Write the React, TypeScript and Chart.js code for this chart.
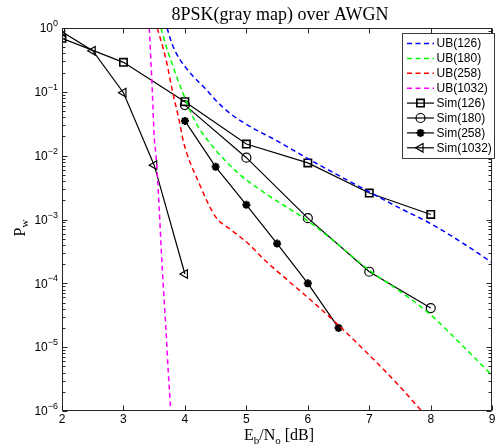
import React, { useEffect, useRef } from "react";
import { Chart, registerables } from "chart.js";

Chart.register(...registerables);

// ---------- data ----------
const xTicks = [2, 3, 4, 5, 6, 7, 8, 9];
const yDecades = [0, -1, -2, -3, -4, -5, -6];

const ub126X = [3.71, 3.78, 3.85, 3.92, 4.0, 4.1, 4.33, 4.5, 4.71, 5.0, 5.5, 6.0, 6.5, 7.0, 7.5, 8.0, 8.5, 9.0];
const ub126Y = [1, 0.6, 0.42, 0.32, 0.25, 0.19, 0.113, 0.074, 0.048, 0.031, 0.017, 0.0090, 0.0049, 0.0027, 0.0015, 0.00086, 0.00044, 0.00021];

const ub180X = [3.61, 3.7, 3.8, 3.96, 4.17, 4.41, 4.87, 5.3, 6.0, 6.5, 7.0, 7.5, 8.0, 8.5, 9.0];
const ub180Y = [1, 0.5, 0.26, 0.1, 0.034, 0.0156, 0.0053, 0.0026, 0.00095, 0.0004, 0.00016, 0.000075, 0.000032, 0.000011, 0.0000036];

const ub258X = [3.55, 3.69, 3.8, 3.9, 3.98, 4.23, 4.5, 4.76, 5.03, 5.3, 5.68, 6.0, 6.48, 7.0, 7.5, 7.85];
const ub258Y = [1, 0.33, 0.1, 0.038, 0.016, 0.0037, 0.0011, 0.00068, 0.00042, 0.00023, 0.00011, 0.00006, 0.000023, 0.0000075, 0.0000024, 0.000001];

const ub1032X = [3.42, 3.445, 3.47, 3.5, 3.53, 3.58, 3.63, 3.69, 3.73, 3.77];
const ub1032Y = [1, 0.33, 0.1, 0.02, 0.01, 0.0016, 0.00018, 0.00002, 0.000004, 0.000001];

const sim126X = [2, 3, 4, 5, 6, 7, 8];
const sim126Y = [0.69, 0.29, 0.07, 0.0152, 0.0077, 0.0026, 0.0012];
const sim180X = [4, 5, 6, 7, 8];
const sim180Y = [0.062, 0.0093, 0.00105, 0.000152, 0.000041];
const sim258X = [4, 4.5, 5, 5.5, 6, 6.5];
const sim258Y = [0.035, 0.0067, 0.0017, 0.00042, 0.0001, 0.00002];
const sim1032X = [2, 2.5, 3, 3.5, 4];
const sim1032Y = [0.87, 0.44, 0.097, 0.0071, 0.00014];

const legendLabels = ["UB(126)", "UB(180)", "UB(258)", "UB(1032)", "Sim(126)", "Sim(180)", "Sim(258)", "Sim(1032)"];

const toPts = (xs: number[], ys: number[]) => xs.map((x, i) => ({ x, y: ys[i] }));

const SANS = "'Liberation Sans', Arial, Helvetica, sans-serif";
const SERIF = "'Liberation Serif', 'Times New Roman', Times, serif";
const DASH = [5, 3.5];

function ubSet(label: string, xs: number[], ys: number[], color: string) {
  return {
    label,
    data: toPts(xs, ys),
    borderColor: color,
    backgroundColor: color,
    borderWidth: 1.5,
    borderDash: DASH,
    pointRadius: 0,
    pointHoverRadius: 0,
    fill: false,
    cubicInterpolationMode: "monotone" as const,
  };
}

function simSet(label: string, xs: number[], ys: number[], style: string, radius: number, rotation: number, bw: number) {
  return {
    label,
    data: toPts(xs, ys),
    borderColor: "#000",
    backgroundColor: "rgba(0,0,0,0)",
    borderWidth: 1.2,
    pointStyle: style,
    pointRadius: radius,
    pointRotation: rotation,
    pointBorderColor: "#000",
    pointBackgroundColor: "rgba(0,0,0,0)",
    pointBorderWidth: bw,
    fill: false,
  };
}

function drawMarker(ctx: CanvasRenderingContext2D, style: string, x: number, y: number, r: number, rot: number) {
  ctx.beginPath();
  if (style === "rect") {
    const s = Math.SQRT1_2 * r;
    ctx.rect(x - s, y - s, 2 * s, 2 * s);
  } else if (style === "circle") {
    ctx.arc(x, y, r, 0, Math.PI * 2);
  } else if (style === "star") {
    for (let k = 0; k < 4; k++) {
      const ang = (k * Math.PI) / 4;
      ctx.moveTo(x - Math.cos(ang) * r, y - Math.sin(ang) * r);
      ctx.lineTo(x + Math.cos(ang) * r, y + Math.sin(ang) * r);
    }
  } else if (style === "triangle") {
    let rad = (rot * Math.PI) / 180;
    ctx.moveTo(x + Math.sin(rad) * r, y - Math.cos(rad) * r);
    rad += (2 * Math.PI) / 3;
    ctx.lineTo(x + Math.sin(rad) * r, y - Math.cos(rad) * r);
    rad += (2 * Math.PI) / 3;
    ctx.lineTo(x + Math.sin(rad) * r, y - Math.cos(rad) * r);
    ctx.closePath();
  }
  ctx.stroke();
}

const matlabPlugin = {
  id: "matlabAxes",
  beforeDraw(chart: any) {
    const { ctx, width, height } = chart;
    ctx.save();
    ctx.fillStyle = "#fff";
    ctx.fillRect(0, 0, width, height);
    ctx.restore();
  },
  afterDraw(chart: any) {
    const { ctx, chartArea: a } = chart;
    const xs = chart.scales.x;
    const ys = chart.scales.y;
    const L = Math.round(a.left) + 0.5;
    const R = Math.round(a.right) - 0.5;
    const T = Math.round(a.top) + 0.5;
    const B = Math.round(a.bottom) - 0.5;
    ctx.save();
    ctx.setLineDash([]);
    ctx.strokeStyle = "#262626";
    ctx.lineWidth = 1;
    // frame
    ctx.strokeRect(L, T, R - L, B - T);
    // x ticks
    ctx.beginPath();
    xTicks.forEach((t) => {
      const px = Math.round(xs.getPixelForValue(t)) + 0.5;
      ctx.moveTo(px, B);
      ctx.lineTo(px, B - 5);
      ctx.moveTo(px, T);
      ctx.lineTo(px, T + 5);
    });
    // y ticks major + minor
    yDecades.forEach((d) => {
      const py = Math.round(ys.getPixelForValue(Math.pow(10, d))) + 0.5;
      ctx.moveTo(L, py);
      ctx.lineTo(L + 5, py);
      ctx.moveTo(R, py);
      ctx.lineTo(R - 5, py);
      if (d > -6) {
        for (let k = 2; k <= 9; k++) {
          const pm = Math.round(ys.getPixelForValue(k * Math.pow(10, d - 1))) + 0.5;
          ctx.moveTo(L, pm);
          ctx.lineTo(L + 3, pm);
          ctx.moveTo(R, pm);
          ctx.lineTo(R - 3, pm);
        }
      }
    });
    ctx.stroke();

    // x tick labels
    ctx.fillStyle = "#000";
    ctx.font = `12px ${SANS}`;
    ctx.textAlign = "center";
    ctx.textBaseline = "middle";
    xTicks.forEach((t) => {
      ctx.fillText(String(t), xs.getPixelForValue(t), 420);
    });
    // y tick labels 10^d (right aligned at x=58)
    yDecades.forEach((d) => {
      const py = ys.getPixelForValue(Math.pow(10, d));
      const exp = d === 0 ? "0" : "\u2212" + String(-d);
      ctx.font = `9px ${SANS}`;
      const ew = ctx.measureText(exp).width;
      ctx.font = `12px ${SANS}`;
      const bw = ctx.measureText("10").width;
      const right = 58;
      ctx.textAlign = "left";
      ctx.textBaseline = "middle";
      ctx.fillText("10", right - ew - bw, py + 1);
      ctx.font = `9px ${SANS}`;
      ctx.textBaseline = "alphabetic";
      ctx.fillText(exp, right - ew, py - 2);
    });

    // title
    ctx.font = `18px ${SERIF}`;
    ctx.textAlign = "center";
    ctx.textBaseline = "alphabetic";
    ctx.fillText("8PSK(gray map) over AWGN", 280, 20);

    // x axis title: E_b/N_o [dB]
    const parts: [string, boolean][] = [["E", false], ["b", true], ["/N", false], ["o", true], [" [dB]", false]];
    let total = 0;
    parts.forEach(([s, sub]) => {
      ctx.font = sub ? `11px ${SERIF}` : `16px ${SERIF}`;
      total += ctx.measureText(s).width;
    });
    let cx = 279 - total / 2;
    ctx.textAlign = "left";
    parts.forEach(([s, sub]) => {
      ctx.font = sub ? `11px ${SERIF}` : `16px ${SERIF}`;
      ctx.fillText(s, cx, sub ? 444 : 440);
      cx += ctx.measureText(s).width;
    });

    // y axis title: P_w
    ctx.save();
    ctx.translate(25, 228);
    ctx.rotate(-Math.PI / 2);
    ctx.font = `16px ${SERIF}`;
    const pw = ctx.measureText("P").width;
    ctx.font = `11px ${SERIF}`;
    const ww = ctx.measureText("w").width;
    let sx = -(pw + ww) / 2;
    ctx.font = `16px ${SERIF}`;
    ctx.fillText("P", sx, 0);
    sx += pw;
    ctx.font = `11px ${SERIF}`;
    ctx.fillText("w", sx, 3);
    ctx.restore();

    // legend
    const bx = 402.5, by = 33.5, bwid = 92, bh = 125;
    ctx.fillStyle = "#fff";
    ctx.fillRect(bx, by, bwid, bh);
    ctx.strokeStyle = "#3a3a3a";
    ctx.lineWidth = 1;
    ctx.strokeRect(bx, by, bwid, bh);
    const dsets = chart.data.datasets;
    legendLabels.forEach((lab, i) => {
      const ds = dsets[i];
      const y = 43.5 + i * 14.9;
      ctx.strokeStyle = ds.borderColor;
      ctx.lineWidth = ds.borderWidth;
      ctx.setLineDash(ds.borderDash || []);
      ctx.beginPath();
      ctx.moveTo(407, y);
      ctx.lineTo(434, y);
      ctx.stroke();
      ctx.setLineDash([]);
      if (ds.pointRadius > 0) {
        ctx.strokeStyle = "#000";
        ctx.lineWidth = ds.pointBorderWidth;
        drawMarker(ctx, ds.pointStyle, 420.5, y, ds.pointRadius, ds.pointRotation || 0);
      }
      ctx.fillStyle = "#000";
      ctx.font = `12px ${SANS}`;
      ctx.textAlign = "left";
      ctx.textBaseline = "middle";
      ctx.fillText(lab, 436.5, y + 0.5);
    });
    ctx.restore();
  },
};

export default function App() {
  const ref = useRef<HTMLCanvasElement>(null);
  useEffect(() => {
    const canvas = ref.current;
    if (!canvas) return;
    const datasets: any[] = [
      ubSet(legendLabels[0], ub126X, ub126Y, "#0000ff"),
      ubSet(legendLabels[1], ub180X, ub180Y, "#00ff00"),
      ubSet(legendLabels[2], ub258X, ub258Y, "#ff0000"),
      ubSet(legendLabels[3], ub1032X, ub1032Y, "#ff00ff"),
      simSet(legendLabels[4], sim126X, sim126Y, "rect", 5.2, 0, 1.6),
      simSet(legendLabels[5], sim180X, sim180Y, "circle", 4.5, 0, 1.2),
      simSet(legendLabels[6], sim258X, sim258Y, "star", 4, 0, 2.2),
      simSet(legendLabels[7], sim1032X, sim1032Y, "triangle", 5, -90, 1.2),
    ];
    const chart = new Chart(canvas, {
      type: "line",
      data: { datasets },
      options: {
        responsive: false,
        animation: false,
        devicePixelRatio: 1,
        layout: { padding: { left: 62, top: 28, right: 2, bottom: 33 } },
        scales: {
          x: { type: "linear", min: 2, max: 9, display: false },
          y: { type: "logarithmic", min: 1e-6, max: 1, display: false },
        },
        plugins: {
          legend: { display: false },
          tooltip: { enabled: false },
          title: { display: false },
        },
        events: [],
      },
      plugins: [matlabPlugin],
    } as any);
    return () => chart.destroy();
  }, []);
  return (
    <div style={{ position: "absolute", left: 0, top: 0, width: 499, height: 444, background: "#fff" }}>
      <canvas ref={ref} width={499} height={444} style={{ display: "block", width: 499, height: 444 }} />
    </div>
  );
}
